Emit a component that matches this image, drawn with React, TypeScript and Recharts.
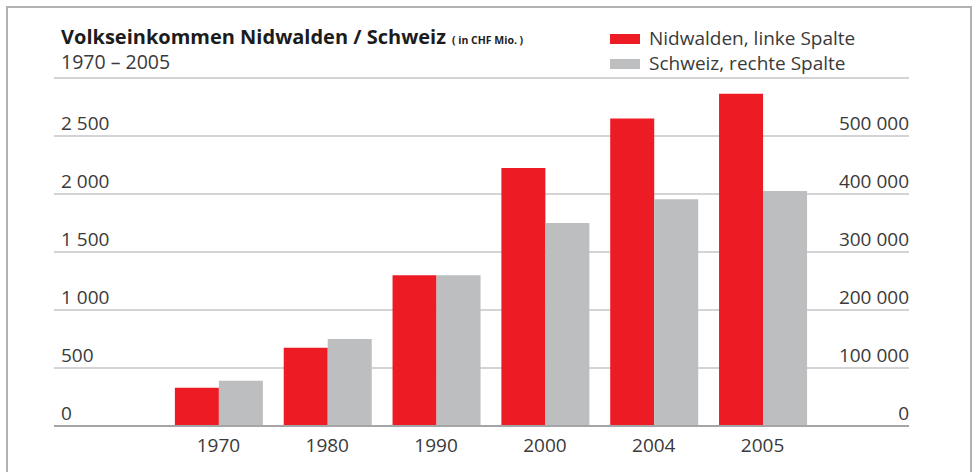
import React from "react";
import { BarChart, Bar, XAxis, YAxis, CartesianGrid } from "recharts";

const years = ["1970", "1980", "1990", "2000", "2004", "2005"];
const nidwalden = [330, 675, 1300, 2225, 2650, 2865];
const schweiz = [78000, 150000, 260000, 350000, 391000, 405000];
const leftTicks = [0, 500, 1000, 1500, 2000, 2500, 3000];
const rightTicks = [0, 100000, 200000, 300000, 400000, 500000, 600000];
const legendItems = [
  { label: "Nidwalden, linke Spalte", color: "#ed1c24" },
  { label: "Schweiz, rechte Spalte", color: "#bcbec0" },
];

const data = years.map((y, i) => ({ year: y, nw: nidwalden[i], ch: schweiz[i] }));

const FONT = "'Open Sans', 'DejaVu Sans', sans-serif";
const fmt = (v: number) => String(v).replace(/\B(?=(\d{3})+(?!\d))/g, " ");

const LeftTick = (props: any) => {
  const { y, payload } = props;
  if (payload.value === 3000) return <g />;
  return (
    <text x={61} y={y - 6} textAnchor="start" fill="#3a3a3a" fontSize={19} fontFamily={FONT}>
      {fmt(payload.value)}
    </text>
  );
};

const RightTick = (props: any) => {
  const { y, payload } = props;
  if (payload.value === 600000) return <g />;
  return (
    <text x={909} y={y - 6.5} textAnchor="end" fill="#3a3a3a" fontSize={19} fontFamily={FONT}>
      {fmt(payload.value)}
    </text>
  );
};

const XTick = (props: any) => {
  const { x, payload } = props;
  return (
    <text x={x} y={452} textAnchor="middle" fill="#3a3a3a" fontSize={19} fontFamily={FONT}>
      {payload.value}
    </text>
  );
};

export default function App() {
  return (
    <div style={{ position: "fixed", left: 0, top: 0, width: 976, height: 472, background: "#fff", overflow: "hidden" }}>
      <div style={{ position: "absolute", left: 6, top: 6, width: 962, height: 500, border: "2px solid #b1b1b4" }} />
      <div style={{ position: "absolute", left: 61, top: 27, lineHeight: "20px", fontFamily: FONT, color: "#1c1c1c", whiteSpace: "nowrap" }}>
        <span style={{ fontSize: 20, fontWeight: 700 }}>Volkseinkommen Nidwalden / Schweiz</span>
        <span style={{ fontSize: 10.5, fontWeight: 700, marginLeft: 6 }}>( in CHF Mio. )</span>
      </div>
      <div style={{ position: "absolute", left: 61, top: 51.5, lineHeight: "20px", fontFamily: FONT, fontSize: 19.5, color: "#3a3a3a", whiteSpace: "nowrap" }}>
        1970 – 2005
      </div>
      <div style={{ position: "absolute", left: 610, top: 26, fontFamily: FONT, fontSize: 19, color: "#3a3a3a", lineHeight: "25px" }}>
        {legendItems.map((p) => (
          <div key={p.label} style={{ display: "flex", alignItems: "center" }}>
            <span style={{ display: "inline-block", width: 30, height: 10, background: p.color, marginRight: 9 }} />
            <span>{p.label}</span>
          </div>
        ))}
      </div>
      <div style={{ position: "absolute", left: 0, top: 0 }}>
        <BarChart
          width={976}
          height={472}
          data={data}
          margin={{ top: 78, right: 66, left: 53, bottom: 0 }}
          barCategoryGap="10%"
          barGap={0}
        >
          <CartesianGrid yAxisId="left" horizontal vertical={false} stroke="#c6c6c8" strokeWidth={1.5} />
          <XAxis
            dataKey="year"
            padding={{ left: 110, right: 92 }}
            tickLine={false}
            axisLine={{ stroke: "#a5a5a8", strokeWidth: 2 }}
            tick={<XTick />}
            height={46}
          />
          <YAxis
            yAxisId="left"
            domain={[0, 3000]}
            ticks={leftTicks}
            width={1}
            axisLine={false}
            tickLine={false}
            tick={<LeftTick />}
            interval={0}
          />
          <YAxis
            yAxisId="right"
            orientation="right"
            domain={[0, 600000]}
            ticks={rightTicks}
            width={1}
            axisLine={false}
            tickLine={false}
            tick={<RightTick />}
            interval={0}
          />
          <Bar yAxisId="left" dataKey="nw" name="Nidwalden, linke Spalte" fill="#ed1c24" isAnimationActive={false} />
          <Bar yAxisId="right" dataKey="ch" name="Schweiz, rechte Spalte" fill="#bcbec0" isAnimationActive={false} />
        </BarChart>
      </div>
    </div>
  );
}
